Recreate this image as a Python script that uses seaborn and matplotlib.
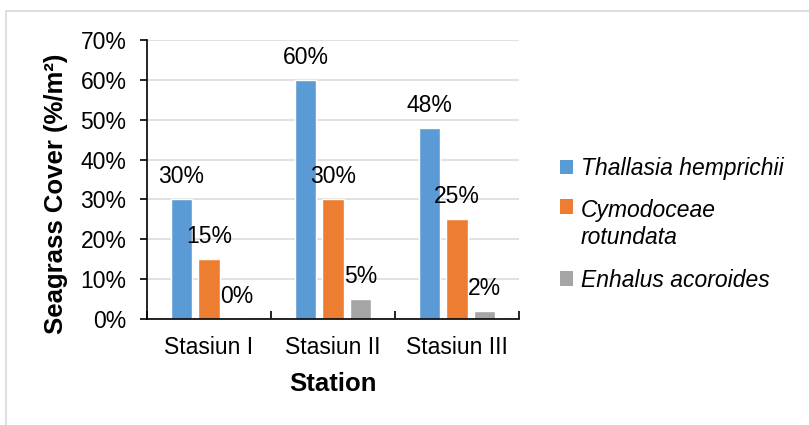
import matplotlib
matplotlib.use("Agg")
import matplotlib.pyplot as plt
import seaborn as sns
import pandas as pd
from matplotlib.patches import Patch, Rectangle
from matplotlib.ticker import FuncFormatter, FixedLocator

stations = ["Stasiun I", "Stasiun II", "Stasiun III"]
species = ["Thallasia hemprichii", "Cymodoceae rotundata", "Enhalus acoroides"]
legend_labels = ["Thallasia hemprichii", "Cymodoceae\nrotundata", "Enhalus acoroides"]
thallasia = [30, 60, 48]
cymodoceae = [15, 30, 25]
enhalus = [0, 5, 2]
colors = ["#5B9BD5", "#ED7D31", "#A5A5A5"]

rows = []
for sp, vals in zip(species, [thallasia, cymodoceae, enhalus]):
    for st, v in zip(stations, vals):
        rows.append({"Station": st, "Species": sp, "Cover": v})
df = pd.DataFrame(rows)

sns.set_theme(style="white")
plt.rcParams["font.family"] = ["Liberation Sans", "DejaVu Sans"]
plt.rcParams["text.color"] = "black"
plt.rcParams["axes.labelcolor"] = "black"
plt.rcParams["xtick.color"] = "black"
plt.rcParams["ytick.color"] = "black"

W, H = 809, 425
fig = plt.figure(figsize=(W / 100, H / 100), dpi=100)
ax = fig.add_axes([147 / W, (H - 319) / H, 372 / W, 279 / H])

sns.barplot(data=df, x="Station", y="Cover", hue="Species", order=stations,
            hue_order=species, palette=colors, width=0.667, gap=0.22,
            saturation=1, ax=ax, legend=False, errorbar=None)

ax.set_ylim(0, 70)
ax.set_xlim(-0.5, 2.5)
ax.yaxis.set_major_locator(FixedLocator(list(range(0, 71, 10))))
ax.yaxis.set_major_formatter(FuncFormatter(lambda v, p: f"{v:.0f}%"))
ax.grid(axis="y", color="#D9D9D9", lw=1.1)
ax.set_axisbelow(True)
for s in ["top", "right"]:
    ax.spines[s].set_visible(False)
for s in ["left", "bottom"]:
    ax.spines[s].set_color("black")
    ax.spines[s].set_linewidth(1.2)

ax.xaxis.set_minor_locator(FixedLocator([-0.5, 0.5, 1.5, 2.5]))
ax.tick_params(axis="x", which="major", direction="in", length=4, width=1.2,
               color="black", labelcolor="black", labelsize=16.5, pad=12, bottom=True)
ax.tick_params(axis="x", which="minor", direction="in", length=5.5, width=1.2,
               color="black", bottom=True)
ax.tick_params(axis="y", which="major", direction="out", length=4.8, width=1.2,
               color="black", labelcolor="black", labelsize=16.5, pad=10, left=True)

for c in ax.containers:
    ax.bar_label(c, labels=[f"{h.get_height():.0f}%" for h in c], padding=8,
                 fontsize=16.5, color="black")

ax.set_ylabel("Seagrass Cover (%/m²)", fontsize=18.5, fontweight="bold", color="black")
ax.set_xlabel("Station", fontsize=18.5, fontweight="bold", color="black")
ax.yaxis.set_label_coords((68 - 147) / 372, (319 - 194) / 279)
ax.xaxis.set_label_coords(0.5, (319 - 372) / 279)

handles = [Patch(facecolor=c, edgecolor="none") for c in colors]
leg = fig.legend(handles, legend_labels, loc="upper left",
                 bbox_to_anchor=(560 / W, 1 - 157 / H), bbox_transform=fig.transFigure,
                 frameon=False, handlelength=0.57, handleheight=0.57,
                 handletextpad=0.35, labelspacing=0.85, borderpad=0, borderaxespad=0,
                 prop={"style": "italic", "size": 16.5})
for t in leg.get_texts():
    t.set_linespacing(1.2)
    t.set_color("black")
try:
    col = leg._legend_handle_box.get_children()[0]
    col.get_children()[1].align = "top"
except Exception:
    pass

fig.patches.append(Rectangle((6 / W, -0.1), 1.2, (1 - 11 / H) + 0.1,
                             transform=fig.transFigure, fill=False,
                             edgecolor="#D9D9D9", lw=1.2))

fig.savefig("out.png", dpi=100)
